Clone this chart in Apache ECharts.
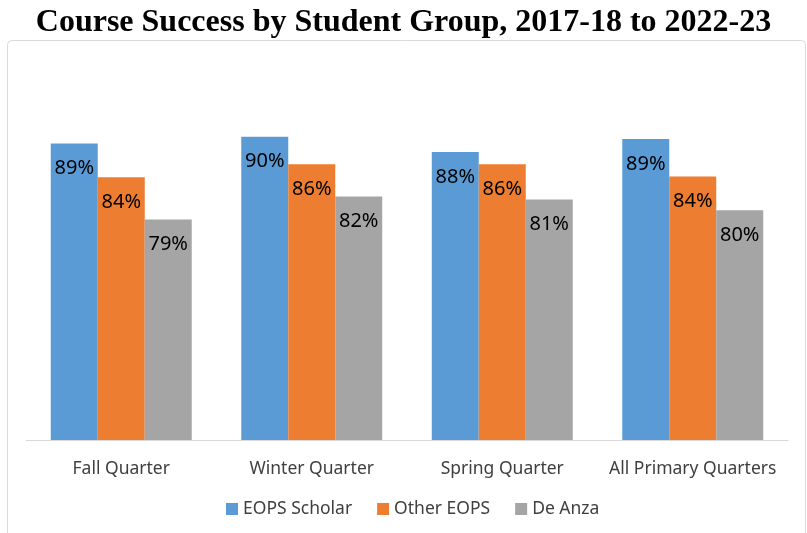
<!DOCTYPE html>
<html lang="en">
<head>
    <meta charset="UTF-8">
    <script src="https://cdn.jsdelivr.net/npm/echarts@6/dist/echarts.min.js"></script>
    <title>Course Success by Student Group</title>
    <style>
        html, body { margin: 0; padding: 0; background: #fff; }
        #main { width: 807px; height: 533px; }
    </style>
</head>
<body>
<div id="main"></div>

<script>
    // data (bar heights, labels are rounded)
    var quarters = ['Fall Quarter', 'Winter Quarter', 'Spring Quarter', 'All Primary Quarters'];
    var groups = ['EOPS Scholar', 'Other EOPS', 'De Anza'];
    var eopsScholar = [88.7, 89.6, 87.6, 89.3];
    var otherEops = [84.3, 86.0, 86.0, 84.4];
    var deAnza = [78.8, 81.8, 81.4, 80.0];
    var colors = ['#5B9BD5', '#ED7D31', '#A5A5A5'];

    var myChart = echarts.init(document.getElementById('main'));

    function barSeries(name, data, color) {
        return {
            name: name,
            type: 'bar',
            data: data,
            barGap: '0%',
            barCategoryGap: '26%',
            itemStyle: { color: color },
            label: {
                show: true,
                position: 'insideTop',
                distance: 15,
                color: '#000',
                fontSize: 20,
                fontFamily: 'Noto Sans',
                formatter: function (p) {
                    return Math.round(p.value) + '%';
                }
            }
        };
    }

    var option = {
        animation: false,
        color: colors,
        title: {
            text: 'Course Success by Student Group, 2017-18 to 2022-23',
            left: 'center',
            top: 2,
            textStyle: {
                fontFamily: 'Liberation Serif',
                fontWeight: 'bold',
                fontSize: 32,
                color: '#000'
            }
        },
        graphic: [{
            type: 'rect',
            shape: { x: 7.5, y: 40.5, width: 798, height: 520, r: 4 },
            style: { fill: 'none', stroke: '#d9d9d9', lineWidth: 1 },
            z: -1
        }],
        legend: {
            data: groups,
            bottom: 10,
            left: 221,
            itemWidth: 12,
            itemHeight: 12,
            itemGap: 25,
            icon: 'rect',
            textStyle: {
                fontFamily: 'Noto Sans',
                fontSize: 17.5,
                color: '#404040'
            }
        },
        grid: {
            left: 26,
            right: 19,
            top: 57,
            bottom: 93
        },
        xAxis: {
            type: 'category',
            data: quarters,
            axisTick: { show: false },
            axisLine: { lineStyle: { color: '#d9d9d9', width: 1 } },
            axisLabel: {
                interval: 0,
                margin: 20,
                fontFamily: 'Noto Sans',
                fontSize: 17.5,
                color: '#404040'
            }
        },
        yAxis: {
            type: 'value',
            min: 50,
            max: 100,
            show: false,
            splitLine: { show: false }
        },
        series: [
            barSeries(groups[0], eopsScholar, colors[0]),
            barSeries(groups[1], otherEops, colors[1]),
            barSeries(groups[2], deAnza, colors[2])
        ]
    };

    myChart.setOption(option);
</script>
</body>
</html>
